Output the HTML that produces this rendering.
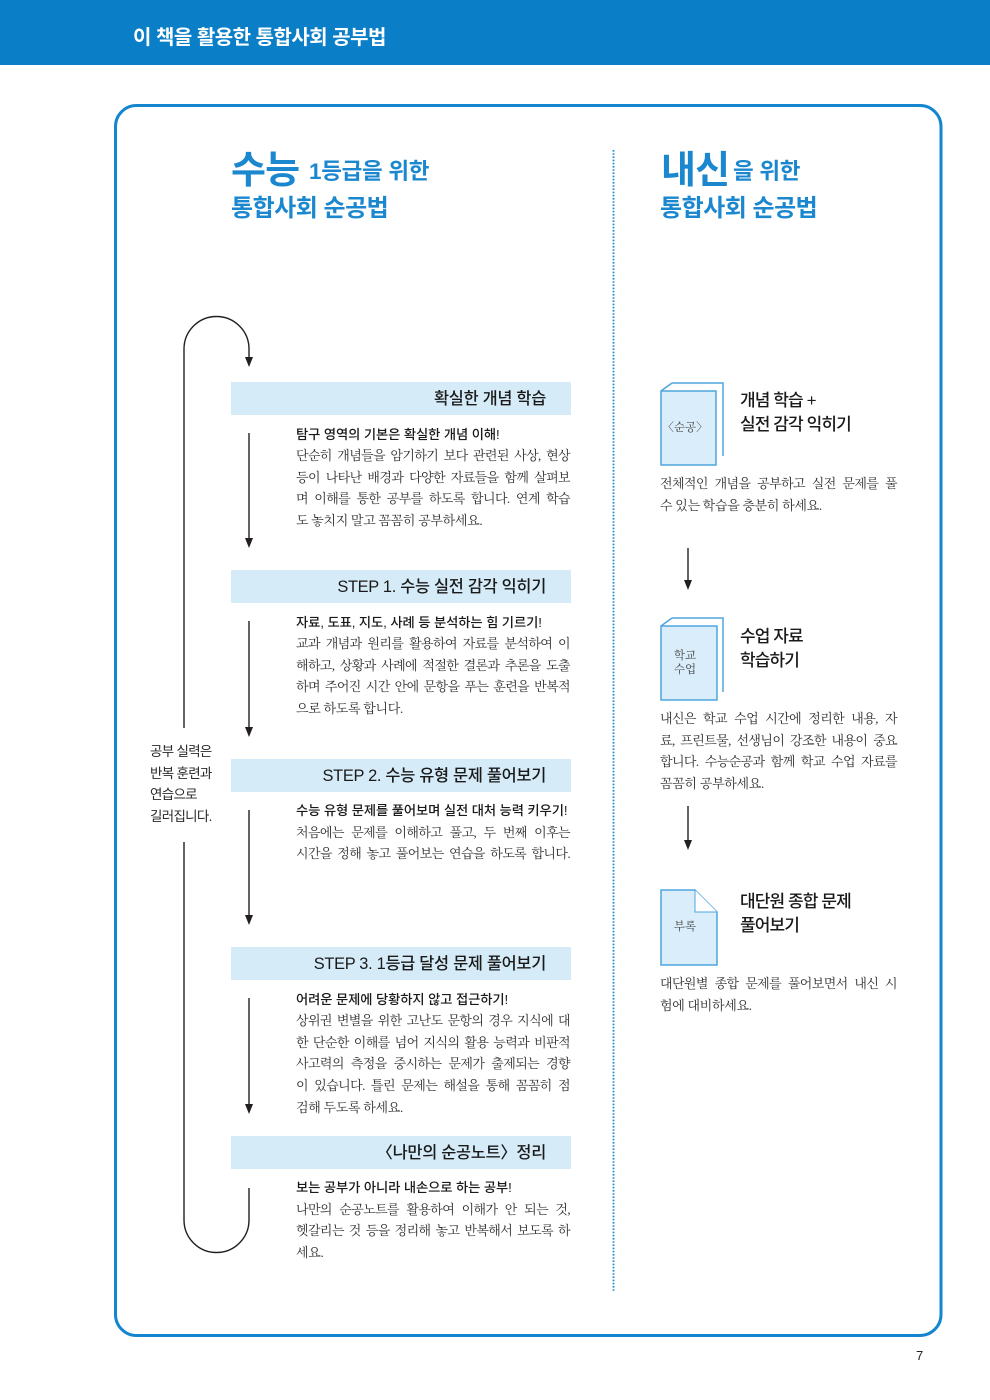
<!DOCTYPE html>
<html lang="ko">
<head>
<meta charset="utf-8">
<style>
  html,body{margin:0;padding:0;}
  body{width:990px;height:1400px;position:relative;background:#fff;overflow:hidden;}
  .a{position:absolute;white-space:nowrap;}
  .sans{font-family:"Liberation Sans","Noto Sans CJK KR",sans-serif;}
  .serif{font-family:"Liberation Serif","Noto Serif CJK SC",serif;}
  .blue{color:#1b87cf;font-weight:700;}
  .bar{position:absolute;left:231px;width:340px;height:33px;background:#d6ebf8;}
  .bt{position:absolute;left:200px;width:346px;height:33px;line-height:34px;text-align:right;
      font-size:16.4px;letter-spacing:-0.3px;color:#1a1a1a;font-weight:500;white-space:nowrap;}
  .p{position:absolute;left:296px;width:274px;}
  .p div{height:21.6px;line-height:21.6px;}
  .f{font-family:"Liberation Sans","Noto Sans CJK KR",sans-serif;font-size:13.3px;letter-spacing:-0.1px;color:#1a1a1a;font-weight:500;white-space:nowrap;}
  .s{font-family:"Liberation Serif","Noto Serif CJK SC",serif;font-size:13px;letter-spacing:-0.3px;color:#2f2f2f;white-space:nowrap;}
  .j{text-align:justify;text-align-last:justify;letter-spacing:-0.6px;white-space:normal;}
  .rp{position:absolute;left:660px;width:237px;}
  .rp div{height:21.6px;line-height:21.6px;}
  .rt{position:absolute;left:740px;font-size:17px;letter-spacing:-0.9px;color:#1a1a1a;font-weight:500;line-height:24.5px;white-space:nowrap;
      font-family:"Liberation Sans","Noto Sans CJK KR",sans-serif;}
  .lbl{position:absolute;left:150px;font-size:13.5px;letter-spacing:-0.7px;color:#2a2a2a;line-height:21.5px;white-space:nowrap;
      font-family:"Liberation Sans","Noto Sans CJK KR",sans-serif;}
  .ic{position:absolute;font-family:"Liberation Serif","Noto Serif CJK SC",serif;font-size:11.5px;color:#444;text-align:center;width:56px;left:657px;line-height:14px;white-space:nowrap;}
</style>
</head>
<body>

<!-- header bar -->
<div class="a" style="left:0;top:0;width:990px;height:65px;background:#0a7fc7;"></div>
<div class="a sans" style="left:133px;top:27px;font-size:20px;line-height:22px;font-weight:700;color:#fff;letter-spacing:-0.5px;">이 책을 활용한 통합사회 공부법</div>

<svg class="a" style="left:0;top:0;" width="990" height="1400" viewBox="0 0 990 1400" xmlns="http://www.w3.org/2000/svg">
  <!-- frame -->
  <rect x="115.5" y="105.5" width="825.5" height="1230" rx="21" ry="21" fill="none" stroke="#1485cf" stroke-width="3"/>
  <!-- dotted divider -->
  <line x1="613.5" y1="150" x2="613.5" y2="1292" stroke="#1f86cf" stroke-width="1.8" stroke-dasharray="1.6 1.6"/>

  <!-- left loop -->
  <g stroke="#231f20" stroke-width="1.4" fill="none">
    <path d="M184,349 A32.5,32.5 0 0 1 249,349 L249,358"/>
    <path d="M184,349 L184,728"/>
    <path d="M184,842 L184,1220"/>
    <path d="M184,1220 A32.5,32.5 0 0 0 249,1220 L249,1188"/>
    <path d="M249,433 L249,540"/>
    <path d="M249,621 L249,729"/>
    <path d="M249,810 L249,917"/>
    <path d="M249,998 L249,1105"/>
    <path d="M688,548 L688,582"/>
    <path d="M688,806 L688,842"/>
  </g>
  <g fill="#231f20">
    <polygon points="245,357 253,357 249,367"/>
    <polygon points="245,538 253,538 249,548"/>
    <polygon points="245,727 253,727 249,737"/>
    <polygon points="245,915 253,915 249,925"/>
    <polygon points="245,1104 253,1104 249,1114"/>
    <polygon points="684,580 692,580 688,590"/>
    <polygon points="684,840 692,840 688,850"/>
  </g>

  <!-- icon 1 -->
  <g stroke="#4ea5de" stroke-width="1.5" fill="none">
    <path d="M672,383 L723,383 L723,456"/>
    <path d="M661,391 L672,383"/>
  </g>
  <rect x="661" y="391" width="55" height="74" fill="#d9edfa" stroke="#4ea5de" stroke-width="1.5"/>
  <!-- icon 2 -->
  <g stroke="#4ea5de" stroke-width="1.5" fill="none">
    <path d="M672,618 L723,618 L723,692"/>
    <path d="M661,626 L672,618"/>
  </g>
  <rect x="661" y="626" width="56" height="74" fill="#d9edfa" stroke="#4ea5de" stroke-width="1.5"/>
  <!-- icon 3 -->
  <path d="M661,890 L695,890 L717,912 L717,965 L661,965 Z" fill="#d9edfa" stroke="#4ea5de" stroke-width="1.5"/>
  <path d="M695,890 L695,912 L717,912" fill="#ffffff" stroke="#4ea5de" stroke-width="1"/>
</svg>

<!-- titles -->
<div class="a sans blue" style="left:231px;top:152px;font-size:38px;line-height:38px;letter-spacing:-0.8px;">수능</div>
<div class="a sans blue" style="left:309px;top:161px;font-size:22.5px;line-height:22px;letter-spacing:-0.3px;">1등급을 위한</div>
<div class="a sans blue" style="left:231px;top:197px;font-size:24px;line-height:24px;letter-spacing:-0.5px;">통합사회 순공법</div>

<div class="a sans blue" style="left:661px;top:152px;font-size:38px;line-height:38px;letter-spacing:-0.8px;">내신</div>
<div class="a sans blue" style="left:733px;top:161px;font-size:22.5px;line-height:22px;letter-spacing:-0.3px;">을 위한</div>
<div class="a sans blue" style="left:660px;top:197px;font-size:24px;line-height:24px;letter-spacing:-0.5px;">통합사회 순공법</div>

<!-- left label -->
<div class="lbl" style="top:741px;">공부 실력은<br>반복 훈련과<br>연습으로<br>길러집니다.</div>

<!-- bars -->
<div class="bar" style="top:382px;"></div>
<div class="bt sans" style="top:382px;">확실한 개념 학습</div>
<div class="bar" style="top:570px;"></div>
<div class="bt sans" style="top:570px;">STEP 1. 수능 실전 감각 익히기</div>
<div class="bar" style="top:759px;"></div>
<div class="bt sans" style="top:759px;">STEP 2. 수능 유형 문제 풀어보기</div>
<div class="bar" style="top:947px;"></div>
<div class="bt sans" style="top:947px;">STEP 3. 1등급 달성 문제 풀어보기</div>
<div class="bar" style="top:1136px;"></div>
<div class="bt sans" style="top:1136px;">〈나만의 순공노트〉정리</div>

<!-- section bodies -->
<div class="p" style="top:423.7px;">
  <div class="f">탐구 영역의 기본은 확실한 개념 이해!</div>
  <div class="s j">단순히 개념들을 암기하기 보다 관련된 사상, 현상</div>
  <div class="s j">등이 나타난 배경과 다양한 자료들을 함께 살펴보</div>
  <div class="s j">며 이해를 통한 공부를 하도록 합니다. 연계 학습</div>
  <div class="s">도 놓치지 말고 꼼꼼히 공부하세요.</div>
</div>

<div class="p" style="top:611.7px;">
  <div class="f">자료, 도표, 지도, 사례 등 분석하는 힘 기르기!</div>
  <div class="s j">교과 개념과 원리를 활용하여 자료를 분석하여 이</div>
  <div class="s j">해하고, 상황과 사례에 적절한 결론과 추론을 도출</div>
  <div class="s j">하며 주어진 시간 안에 문항을 푸는 훈련을 반복적</div>
  <div class="s">으로 하도록 합니다.</div>
</div>

<div class="p" style="top:800.2px;">
  <div class="f">수능 유형 문제를 풀어보며 실전 대처 능력 키우기!</div>
  <div class="s j">처음에는 문제를 이해하고 풀고, 두 번째 이후는</div>
  <div class="s j">시간을 정해 놓고 풀어보는 연습을 하도록 합니다.</div>
</div>

<div class="p" style="top:988.7px;">
  <div class="f">어려운 문제에 당황하지 않고 접근하기!</div>
  <div class="s j">상위권 변별을 위한 고난도 문항의 경우 지식에 대</div>
  <div class="s j">한 단순한 이해를 넘어 지식의 활용 능력과 비판적</div>
  <div class="s j">사고력의 측정을 중시하는 문제가 출제되는 경향</div>
  <div class="s j">이 있습니다. 틀린 문제는 해설을 통해 꼼꼼히 점</div>
  <div class="s">검해 두도록 하세요.</div>
</div>

<div class="p" style="top:1177.2px;">
  <div class="f">보는 공부가 아니라 내손으로 하는 공부!</div>
  <div class="s j">나만의 순공노트를 활용하여 이해가 안 되는 것,</div>
  <div class="s j">헷갈리는 것 등을 정리해 놓고 반복해서 보도록 하</div>
  <div class="s">세요.</div>
</div>

<!-- right column -->
<div class="ic" style="top:421px;">〈순공〉</div>
<div class="rt" style="top:388.5px;">개념 학습 +<br>실전 감각 익히기</div>
<div class="rp" style="top:473.2px;">
  <div class="s j">전체적인 개념을 공부하고 실전 문제를 풀</div>
  <div class="s">수 있는 학습을 충분히 하세요.</div>
</div>

<div class="ic" style="top:649px;">학교<br>수업</div>
<div class="rt" style="top:624.5px;">수업 자료<br>학습하기</div>
<div class="rp" style="top:708.2px;">
  <div class="s j">내신은 학교 수업 시간에 정리한 내용, 자</div>
  <div class="s j">료, 프린트물, 선생님이 강조한 내용이 중요</div>
  <div class="s j">합니다. 수능순공과 함께 학교 수업 자료를</div>
  <div class="s">꼼꼼히 공부하세요.</div>
</div>

<div class="ic" style="top:920px;">부록</div>
<div class="rt" style="top:889.5px;">대단원 종합 문제<br>풀어보기</div>
<div class="rp" style="top:973.2px;">
  <div class="s j">대단원별 종합 문제를 풀어보면서 내신 시</div>
  <div class="s">험에 대비하세요.</div>
</div>

<!-- page number -->
<div class="a sans" style="left:916px;top:1348px;font-size:13px;line-height:16px;color:#222;">7</div>

</body>
</html>
